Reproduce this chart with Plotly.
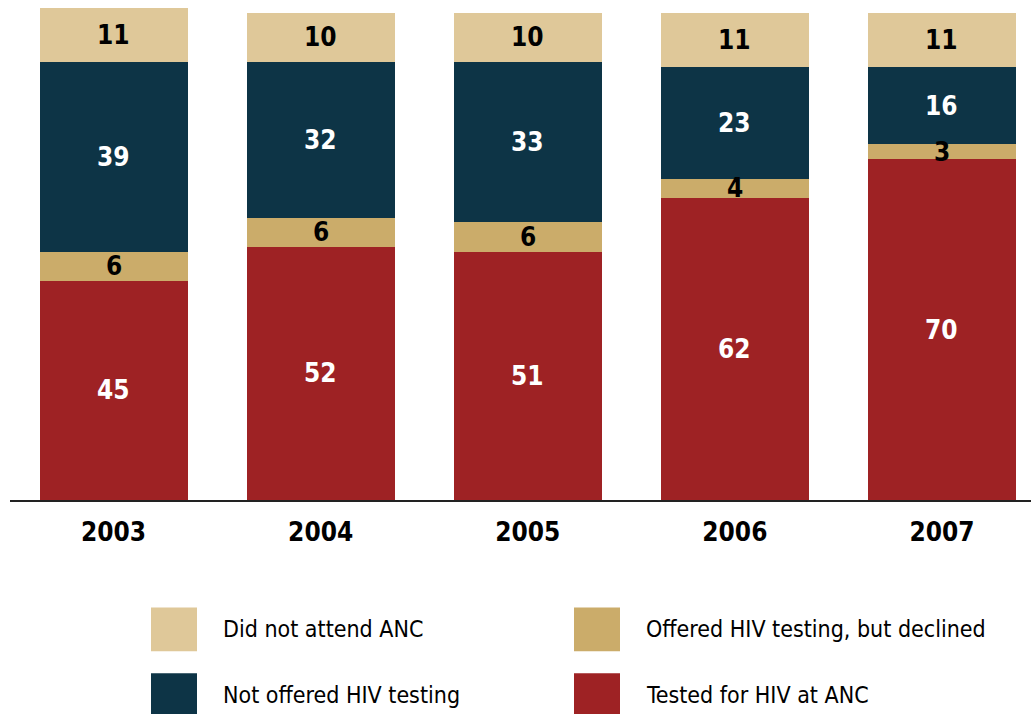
import plotly.graph_objects as go

years = ["2003", "2004", "2005", "2006", "2007"]
series_names = [
    "Tested for HIV at ANC",
    "Offered HIV testing, but declined",
    "Not offered HIV testing",
    "Did not attend ANC",
]
tested = [45, 52, 51, 62, 70]
declined = [6, 6, 6, 4, 3]
not_offered = [39, 32, 33, 23, 16]
no_anc = [11, 10, 10, 11, 11]

series_values = [tested, declined, not_offered, no_anc]
colors = ["#9E2224", "#CBAC6A", "#0D3446", "#DFC899"]
label_colors = ["white", "black", "white", "black"]

W, H = 1031, 714
plot_left, plot_right = 10, 1031
plot_top, plot_bottom = 0, 500.5

FONT = "DejaVu Sans Condensed, DejaVu Sans, sans-serif"

fig = go.Figure()
for name, vals, col in zip(series_names, series_values, colors):
    fig.add_trace(go.Bar(
        x=years, y=vals, name=name, marker=dict(color=col, line=dict(width=0)),
        width=0.715, showlegend=False, hoverinfo="name+y",
    ))

# value labels centred in each stacked segment (x given as category index)
annotations = []
base = [0] * len(years)
for vals, lc in zip(series_values, label_colors):
    for i, v in enumerate(vals):
        annotations.append(dict(
            x=i, y=base[i] + v / 2, xref="x", yref="y",
            text=f"<b>{v}</b>", showarrow=False,
            font=dict(family=FONT, size=26, color=lc),
        ))
        base[i] += v


def px_x(px):
    return (px - plot_left) / (plot_right - plot_left)


def px_y(py):
    return (plot_bottom - py) / (plot_bottom - plot_top)


# legend: two columns of swatches with labels
legend_layout = [
    (series_names[3], colors[3], 151, 608),
    (series_names[1], colors[1], 574, 608),
    (series_names[2], colors[2], 151, 674),
    (series_names[0], colors[0], 574, 674),
]
shapes = []
for name, col, sx, sy in legend_layout:
    shapes.append(dict(
        type="rect", xref="paper", yref="paper",
        x0=px_x(sx), x1=px_x(sx + 46), y0=px_y(sy), y1=px_y(sy + 44),
        fillcolor=col, line=dict(width=0),
    ))
    annotations.append(dict(
        x=px_x(sx + 70), y=px_y(sy + 22), xref="paper", yref="paper",
        xanchor="left", yanchor="middle", text=name, showarrow=False,
        font=dict(family=FONT, size=23, color="black"),
    ))

fig.update_layout(
    barmode="stack",
    width=W, height=H,
    margin=dict(l=plot_left, r=W - plot_right, t=plot_top, b=H - plot_bottom),
    paper_bgcolor="white", plot_bgcolor="white",
    xaxis=dict(
        type="category",
        range=[-0.5, 4.43], showgrid=False, zeroline=False,
        showline=True, linecolor="#222222", linewidth=1.5,
        ticks="", tickfont=dict(family=FONT, size=26, color="black"),
        tickprefix="<b>", ticksuffix="</b>", ticklabelstandoff=8,
    ),
    yaxis=dict(range=[0, 102.67], visible=False, showgrid=False, zeroline=False),
    annotations=annotations,
    shapes=shapes,
)

fig.write_html("out.html")
